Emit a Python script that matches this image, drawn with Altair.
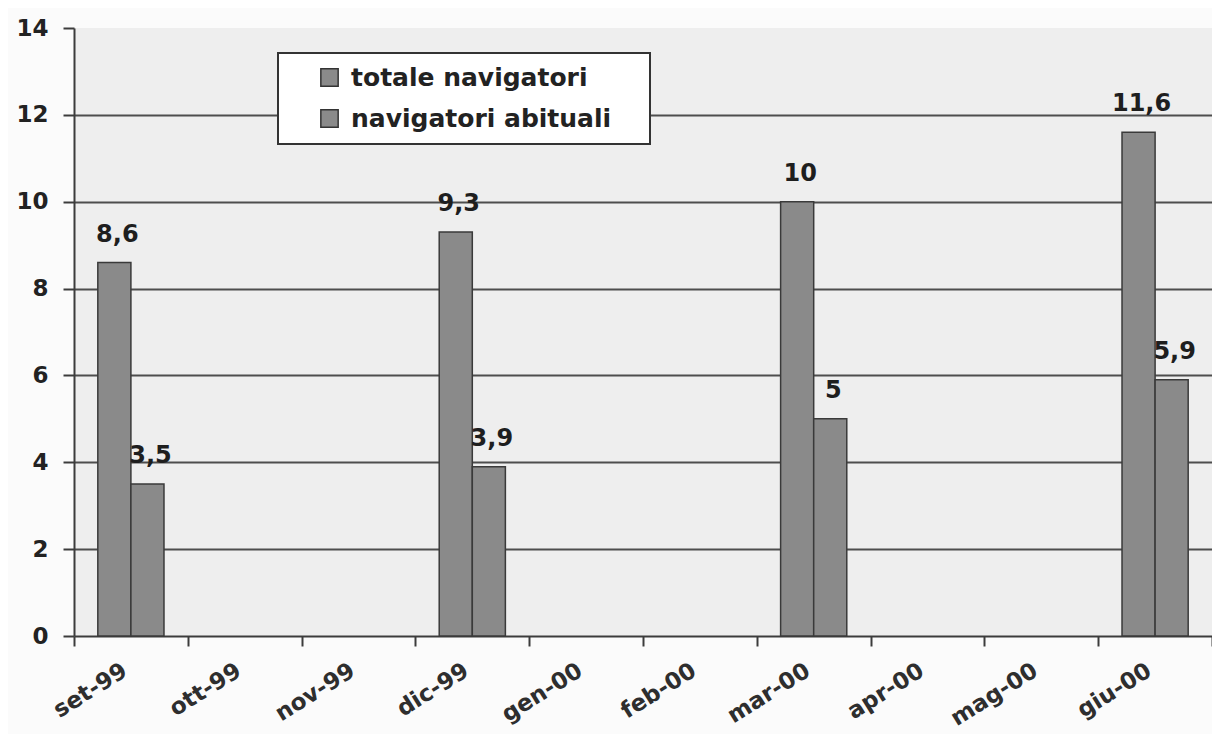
import altair as alt
import pandas as pd

# ---- data ----
months = ["set-99", "ott-99", "nov-99", "dic-99", "gen-00",
          "feb-00", "mar-00", "apr-00", "mag-00", "giu-00"]
bar_months = ["set-99", "dic-99", "mar-00", "giu-00"]
series = ["totale navigatori", "navigatori abituali"]
totale = [8.6, 9.3, 10, 11.6]
abituali = [3.5, 3.9, 5, 5.9]
y_ticks = [0, 2, 4, 6, 8, 10, 12, 14]


def fmt(v):
    s = f"{v:g}"
    return s.replace(".", ",")


rows = []
for m, t, a in zip(bar_months, totale, abituali):
    rows.append({"mese": m, "serie": series[0], "valore": t, "etichetta": fmt(t)})
    rows.append({"mese": m, "serie": series[1], "valore": a, "etichetta": fmt(a)})
df = pd.DataFrame(rows)

FONT = "DejaVu Sans"
GRID = "#4d4d4d"
AXIS = "#3c3c3c"

x_enc = alt.X(
    "mese:N",
    sort=months,
    scale=alt.Scale(domain=months, paddingInner=0, paddingOuter=0),
    axis=alt.Axis(
        title=None,
        labelAngle=-32,
        labelAlign="right",
        labelBaseline="top",
        labelOffset=-12,
        labelPadding=13,
        labelFont=FONT,
        labelFontWeight="bold",
        labelFontSize=23,
        labelColor="#2e2e2e",
        tickBand="extent",
        tickSize=10,
        tickWidth=2,
        tickColor=AXIS,
        domainColor=AXIS,
        domainWidth=2,
        grid=False,
    ),
)
xoff_enc = alt.XOffset(
    "serie:N",
    sort=series,
    scale=alt.Scale(domain=series, paddingInner=0, paddingOuter=0.72),
)
y_enc = alt.Y(
    "valore:Q",
    scale=alt.Scale(domain=[0, 14], nice=False, zero=True),
    axis=alt.Axis(
        title=None,
        values=y_ticks,
        labelFont=FONT,
        labelFontWeight="bold",
        labelFontSize=23,
        labelColor="#222222",
        labelPadding=15,
        tickSize=11,
        tickWidth=2,
        tickColor=AXIS,
        domainColor=AXIS,
        domainWidth=2,
        grid=True,
        gridColor=GRID,
        gridWidth=2,
        gridOpacity={"condition": {"test": "datum.value == 0 || datum.value == 14", "value": 0}, "value": 1},
    ),
)

base = alt.Chart(df).encode(x=x_enc, xOffset=xoff_enc, y=y_enc)

bars = base.mark_bar(stroke="#3a3a3a", strokeWidth=1.5).encode(
    color=alt.Color(
        "serie:N",
        sort=series,
        scale=alt.Scale(domain=series, range=["#8a8a8a", "#8a8a8a"]),
        legend=alt.Legend(
            title=None,
            orient="none",
            legendX=204,
            legendY=25,
            direction="vertical",
            symbolType="square",
            symbolSize=300,
            symbolStrokeColor="#333333",
            symbolStrokeWidth=1.5,
            symbolOffset=27,
            labelFont=FONT,
            labelFontWeight="bold",
            labelFontSize=25,
            labelColor="#222222",
            labelOffset=9,
            labelLimit=600,
            labelExpr="datum.label + '\u00a0\u00a0\u00a0\u200d'",
            rowPadding=15,
            padding=12,
            fillColor="white",
            strokeColor="#333333",
        ),
    )
)

labels = base.mark_text(
    baseline="alphabetic",
    dy=-21,
    dx=3,
    font=FONT,
    fontWeight="bold",
    fontSize=24,
    color="#1e1e1e",
).encode(text="etichetta:N")

chart = (
    alt.layer(bars, labels)
    .properties(
        width=1138,
        height=608,
        autosize=alt.AutoSizeParams(type="none"),
        padding={"left": 66, "top": 20, "right": 0, "bottom": 98},
        background="#fbfbfb",
    )
    .configure_view(stroke=None, fill="#eeeeee")
    .configure_legend(strokeWidth=2)
)

chart.save("out.html", embed_options={"renderer": "svg", "actions": False})
